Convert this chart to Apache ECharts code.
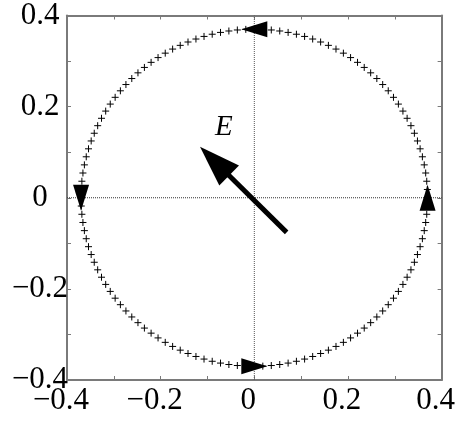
<!DOCTYPE html>
<html>
<head>
<meta charset="utf-8">
<script src="https://cdn.jsdelivr.net/npm/echarts@6/dist/echarts.min.js"></script>
<style>
  html, body { margin: 0; padding: 0; background: #fff; }
  #chart { width: 458px; height: 425px; }
</style>
</head>
<body>
<div id="chart"></div>
<script>
// Axis range and tick spacing
const AXIS_MIN = -0.4;
const AXIS_MAX = 0.4;
const TICK_STEP = 0.1;

// Locus of the field vector tip: a circle sampled with "+" markers
const CIRCLE_RADIUS = 0.37;
const MARKER_COUNT = 128;

// Direction arrowheads on the circle (rotation sense: counter-clockwise)
const HEAD_POINTS = [[0, 0.37], [-0.37, 0], [0, -0.37], [0.37, 0]];
const HEAD_ANGLES = [90, 180, -90, 0];

// Field vector E: tail and tip
const E_TAIL = [0.069, -0.076];
const E_TIP = [-0.116, 0.112];
const E_LABEL_AT = [-0.065, 0.155];

const FONT = 'Liberation Serif';
const FRAME = '#7a7a7a';

const circlePoints = [];
for (let i = 0; i < MARKER_COUNT; i++) {
  const t = 2 * Math.PI * i / MARKER_COUNT;
  circlePoints.push([CIRCLE_RADIUS * Math.cos(t), CIRCLE_RADIUS * Math.sin(t)]);
}

function tickLabel(v) {
  const t = Math.round(v * 10);
  if (t % 2 !== 0) return '';
  if (t === 0) return '0';
  return (t < 0 ? '\u2212' : '') + (Math.abs(t) / 10).toFixed(1);
}

function axisBase(extra) {
  return Object.assign({
    type: 'value',
    min: AXIS_MIN,
    max: AXIS_MAX,
    interval: TICK_STEP,
    axisLine: { show: true, onZero: false, lineStyle: { color: FRAME, width: 2 } },
    axisTick: { show: true, inside: true, length: 4, lineStyle: { color: FRAME, width: 1 } },
    splitLine: { show: false }
  }, extra);
}

const chart = echarts.init(document.getElementById('chart'));
chart.setOption({
  animation: false,
  backgroundColor: '#fff',
  grid: { left: 67, right: 14, top: 10, bottom: 45, containLabel: false },
  xAxis: [
    axisBase({
      position: 'bottom',
      axisLabel: {
        formatter: tickLabel, color: '#000', fontFamily: FONT, fontSize: 31,
        margin: 5, padding: [0, 12, 0, 0], showMinLabel: true, showMaxLabel: true,
        hideOverlap: false
      }
    }),
    axisBase({ position: 'top', axisLabel: { show: false } })
  ],
  yAxis: [
    axisBase({
      position: 'left',
      axisLabel: {
        formatter: tickLabel, color: '#000', fontFamily: FONT, fontSize: 31,
        align: 'center', margin: 27, padding: [10, 0, 0, 0],
        showMinLabel: true, showMaxLabel: true, hideOverlap: false
      }
    }),
    axisBase({ position: 'right', axisLabel: { show: false } })
  ],
  series: [
    {
      type: 'line', xAxisIndex: 0, yAxisIndex: 0, symbol: 'none', z: 1,
      data: [[AXIS_MIN, 0], [AXIS_MAX, 0]],
      lineStyle: { color: '#333', width: 1, type: 'dotted' }
    },
    {
      type: 'line', xAxisIndex: 0, yAxisIndex: 0, symbol: 'none', z: 1,
      data: [[0, AXIS_MIN], [0, AXIS_MAX]],
      lineStyle: { color: '#555', width: 1, type: 'dotted' }
    },
    {
      type: 'scatter', xAxisIndex: 0, yAxisIndex: 0, z: 2,
      symbol: 'path://M5,0V10M0,5H10',
      symbolSize: 7,
      itemStyle: { color: 'transparent', borderColor: '#000', borderWidth: 1, opacity: 1 },
      data: circlePoints
    },
    {
      type: 'scatter', xAxisIndex: 0, yAxisIndex: 0, z: 3,
      symbol: 'triangle',
      symbolSize: [16, 26],
      itemStyle: { color: '#000', opacity: 1 },
      data: HEAD_POINTS.map((p, i) => ({ value: p, symbolRotate: HEAD_ANGLES[i] }))
    },
    {
      type: 'custom', xAxisIndex: 0, yAxisIndex: 0, z: 4,
      data: [[E_TAIL[0], E_TAIL[1], E_TIP[0], E_TIP[1], E_LABEL_AT[0], E_LABEL_AT[1]]],
      renderItem: function (params, api) {
        const a = api.coord([api.value(0), api.value(1)]);
        const b = api.coord([api.value(2), api.value(3)]);
        const lbl = api.coord([api.value(4), api.value(5)]);
        const dx = b[0] - a[0], dy = b[1] - a[1];
        const len = Math.hypot(dx, dy);
        const ux = dx / len, uy = dy / len;
        const nx = -uy, ny = ux;
        const headLen = 41, headHalf = 14;
        const base = [b[0] - ux * headLen, b[1] - uy * headLen];
        return {
          type: 'group',
          children: [
            {
              type: 'line',
              shape: { x1: a[0], y1: a[1], x2: base[0] + ux * 3, y2: base[1] + uy * 3 },
              style: { stroke: '#000', lineWidth: 5 }
            },
            {
              type: 'polygon',
              shape: { points: [
                b,
                [base[0] + nx * headHalf, base[1] + ny * headHalf],
                [base[0] - nx * headHalf, base[1] - ny * headHalf]
              ] },
              style: { fill: '#000' }
            },
            {
              type: 'text',
              x: lbl[0], y: lbl[1],
              style: {
                text: 'E', fill: '#000',
                font: 'italic 29px "Liberation Serif"',
                align: 'center', verticalAlign: 'middle'
              }
            }
          ]
        };
      }
    }
  ]
});
</script>
</body>
</html>
